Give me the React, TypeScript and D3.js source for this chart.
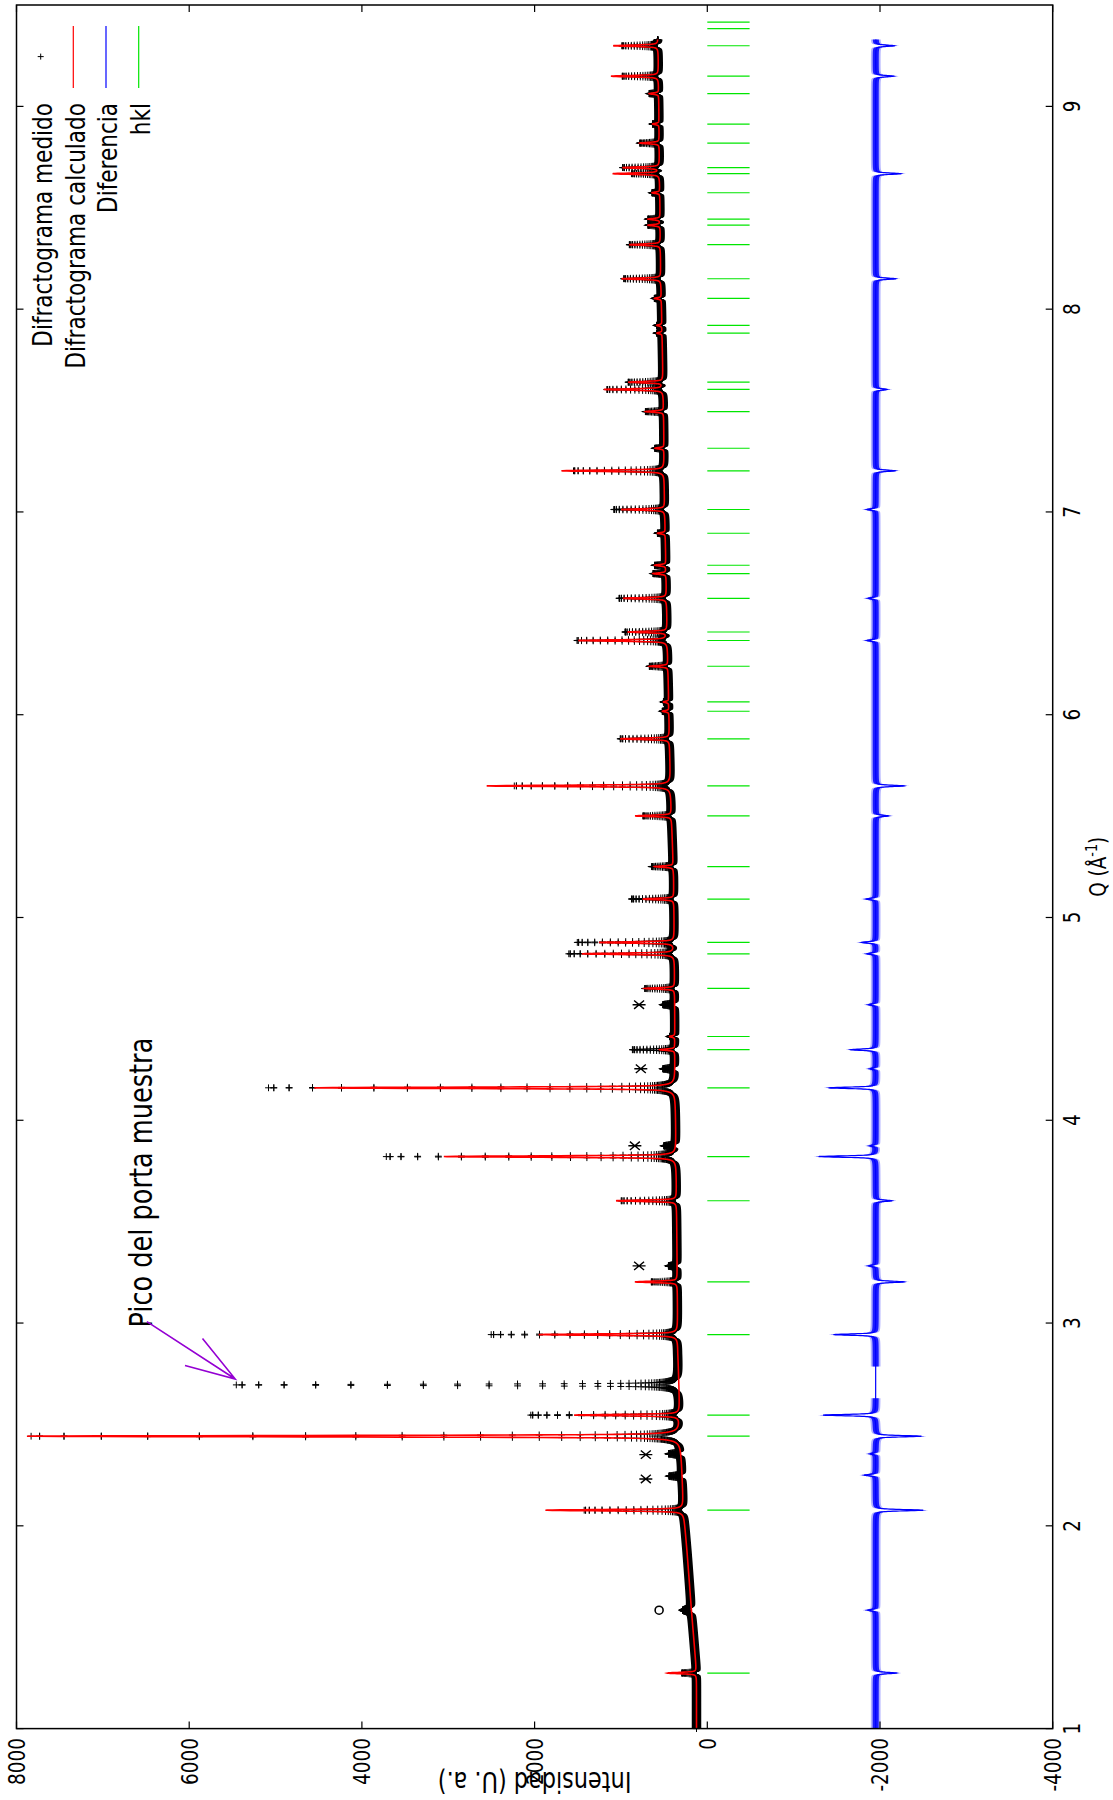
import React from 'react';
import * as d3 from 'd3';

// ---------- DATA ----------
const qTicks = [1, 2, 3, 4, 5, 6, 7, 8, 9];
const intensityTicks = [8000, 6000, 4000, 2000, 0, -2000, -4000];

// background knots (Q, intensity)
const bgQ = [1.0, 1.28, 1.58, 1.87, 2.08, 2.4, 2.85, 3.4, 3.8, 4.3, 4.8, 5.2, 5.5, 5.8, 6.2, 6.7, 7.1, 7.5, 7.8, 8.2, 8.8, 9.33];
const bgI = [125, 125, 183, 234, 275, 305, 340, 352, 360, 375, 380, 390, 415, 434, 454, 478, 497, 506, 520, 540, 556, 570];

// reflections (hkl positions), calculated and observed peak heights above background
const reflectionQ = [1.274, 2.077, 2.442, 2.546, 2.943, 3.203, 3.603, 3.821, 4.160, 4.348, 4.413, 4.650, 4.821, 4.877, 5.091, 5.251, 5.501, 5.649, 5.881, 6.017, 6.063, 6.239, 6.366, 6.408, 6.574, 6.696, 6.737, 6.895, 7.012, 7.203, 7.314, 7.495, 7.604, 7.640, 7.882, 7.920, 8.053, 8.150, 8.318, 8.414, 8.444, 8.574, 8.668, 8.698, 8.819, 8.913, 9.063, 9.149, 9.299, 9.383, 9.416];
const calcHeight = [340, 1600, 7570, 1220, 1610, 490, 700, 2690, 4180, 175, 60, 345, 1070, 870, 362, 218, 420, 2130, 570, 75, 60, 215, 1030, 455, 505, 150, 130, 90, 505, 1190, 105, 210, 685, 400, 60, 60, 80, 455, 360, 140, 140, 90, 540, 425, 225, 75, 110, 550, 520, 0, 0];
const obsHeight = [170, 1150, 7520, 1720, 2160, 300, 640, 3355, 4710, 490, 60, 345, 1220, 1120, 490, 250, 330, 1810, 570, 75, 60, 215, 1045, 485, 550, 150, 130, 90, 590, 1050, 105, 210, 650, 400, 60, 60, 80, 430, 360, 140, 140, 90, 320, 425, 225, 75, 110, 420, 420, 0, 0];

// observed peaks not in the model (sample holder + impurities)
const extraQ = [1.584, 2.245, 2.355, 2.695, 3.282, 3.874, 4.254, 4.570];
const extraHeight = [100, 150, 140, 5125, 100, 130, 135, 135];
const extraWidth = [0.02, 0.012, 0.012, 0.008, 0.012, 0.012, 0.012, 0.012];

// difference curve spikes
const diffQ = [1.274, 1.584, 2.077, 2.25, 2.355, 2.442, 2.546, 2.943, 3.203, 3.282, 3.603, 3.821, 3.874, 4.160, 4.254, 4.348, 4.570, 4.821, 4.877, 5.091, 5.501, 5.649, 6.366, 6.574, 7.012, 7.203, 7.604, 8.150, 8.668, 9.149, 9.299];
const diffAmp = [-240, 90, -550, 130, 60, -530, 610, 488, -330, 80, -185, 660, 60, 545, 60, 290, 80, 100, 165, 110, -147, -330, 100, 85, 100, -225, -132, -230, -290, -208, -215];
const diffOffset = -1950;
const excludedRegion = [2.63, 2.785];

// impurity markers
const asteriskQ = [2.231, 2.351, 3.282, 3.874, 4.254, 4.570];
const asteriskI = [712, 712, 790, 839, 770, 790];
const circleQ = [1.584];
const circleI = [558];

// annotation
const annotationText = 'Pico del porta muestra';
const labelAt = [2.978, 6431];
const arrowFrom = [3.007, 6490];
const arrowTo = [2.724, 5467];

const legendLabels = ['Difractograma medido', 'Difractograma calculado', 'Diferencia', 'hkl'];

const qStart = 1.0, qEnd = 9.33, qStep = 0.0005;
const FWHM = 0.008, ETA = 0.5;
const noiseBand = 55;
const diffNoise = 35;

// ---------- helpers ----------
function profile(d: number, w: number) {
  const x = d / w;
  const g = Math.exp(-4 * Math.LN2 * x * x);
  const l = 1 / (1 + 4 * x * x);
  return ETA * l + (1 - ETA) * g;
}

const W = 1723.6;
const H = 1036.2;
const SX = 0.8;
const FONT = 'DejaVu Sans';

const x = d3.scaleLinear().domain([1, 9.5]).range([0, W]);
const y = d3.scaleLinear().domain([-4000, 8000]).range([H, 0]);
const bg = d3.scaleLinear().domain(bgQ).range(bgI).clamp(true);

type P = { q: number; b: number; calc: number; obs: number; diff: number };

function buildData(): P[] {
  const pts: P[] = [];
  const n = Math.round((qEnd - qStart) / qStep);
  for (let i = 0; i <= n; i++) {
    const q = qStart + i * qStep;
    const b = bg(q);
    let c = 0, o = 0, df = 0;
    for (let k = 0; k < reflectionQ.length; k++) {
      const d = q - reflectionQ[k];
      if (Math.abs(d) > 0.6) continue;
      const p = profile(d, FWHM);
      c += calcHeight[k] * p;
      o += obsHeight[k] * p;
    }
    for (let k = 0; k < extraQ.length; k++) {
      const d = q - extraQ[k];
      if (Math.abs(d) > 0.6) continue;
      o += extraHeight[k] * profile(d, extraWidth[k]);
    }
    for (let k = 0; k < diffQ.length; k++) {
      const d = q - diffQ[k];
      if (Math.abs(d) > 0.6) continue;
      df += diffAmp[k] * profile(d, FWHM);
    }
    pts.push({ q, b, calc: b + c, obs: b + o, diff: diffOffset + df });
  }
  return pts;
}

const Txt = (props: { x: number; y: number; anchor?: string; size: number; rotate?: number; fill?: string; children: any }) => (
  <text
    transform={`translate(${props.x},${props.y}) rotate(${props.rotate || 0}) scale(${SX},1)`}
    textAnchor={props.anchor || 'start'}
    fontSize={props.size}
    fontFamily={FONT}
    fill={props.fill || '#000'}
  >
    {props.children}
  </text>
);

export default function App() {
  const data = React.useMemo(buildData, []);

  const nearBase = (d: P) => d.obs - d.b < 260;
  const obsArea = d3.area<P>().defined(nearBase).x(d => x(d.q)).y0(d => y(d.obs - noiseBand)).y1(d => y(d.obs + noiseBand))(data) || '';
  const a = 3.4;
  const crossParts: string[] = [];
  for (const d of data) {
    const px = x(d.q), py = y(d.obs);
    crossParts.push(`M${(px - a).toFixed(1)},${py.toFixed(1)}h${2 * a}M${px.toFixed(1)},${(py - a).toFixed(1)}v${2 * a}`);
  }
  const crossPath = crossParts.join('');
  const calcLine = d3.line<P>().x(d => x(d.q)).y(d => y(d.calc))(data) || '';
  const diffLine = d3.line<P>().x(d => x(d.q)).y(d => y(d.diff))(data) || '';
  const inExcl = (d: P) => d.q < excludedRegion[0] || d.q > excludedRegion[1];
  const diffArea = d3.area<P>().defined(inExcl).x(d => x(d.q)).y0(d => y(d.diff - diffNoise)).y1(d => y(d.diff + diffNoise))(data) || '';
  const diffArea2 = d3.area<P>().defined(inExcl).x(d => x(d.q)).y0(d => y(d.diff - diffNoise * 1.6)).y1(d => y(d.diff + diffNoise * 1.6))(data) || '';

  // arrow
  const ax0 = x(arrowFrom[0]), ay0 = y(arrowFrom[1]);
  const ax1 = x(arrowTo[0]), ay1 = y(arrowTo[1]);
  const ang = Math.atan2(ay0 - ay1, ax0 - ax1);
  const headLen = 52, headAng = (18 * Math.PI) / 180;
  const b1 = [ax1 + headLen * Math.cos(ang + headAng), ay1 + headLen * Math.sin(ang + headAng)];
  const b2 = [ax1 + headLen * Math.cos(ang - headAng), ay1 + headLen * Math.sin(ang - headAng)];

  // asterisk path
  const astAngles = [90, 50, 130].map(t => (t * Math.PI) / 180);
  const astR = 6.5;
  const astPath = asteriskQ
    .map((q, i) => {
      const cx = x(q), cy = y(asteriskI[i]);
      return astAngles
        .map(t => `M${cx - astR * Math.cos(t)},${cy - astR * Math.sin(t)}L${cx + astR * Math.cos(t)},${cy + astR * Math.sin(t)}`)
        .join('');
    })
    .join('');

  const legendTextEnd = 1625.6;
  const legendBase = [35.2, 68.2, 100.9, 133.6];
  const legendColors = ['#000', '#ff0000', '#0000ff', '#00e600'];

  return (
    <>
      <style>{'body{margin:0}'}</style>
      <svg width={1113} height={1800} xmlns="http://www.w3.org/2000/svg" style={{ display: 'block' }}>
        <rect width={1113} height={1800} fill="#fff" />
        <g transform="translate(16.5,1728.6) rotate(-90)">
          {/* measured */}
          <path d={obsArea} fill="#000" />
          <path d={crossPath} stroke="#000" strokeWidth={1} fill="none" />
          {/* calculated */}
          <path d={calcLine} stroke="#ff0000" strokeWidth={1.6} fill="none" />
          {/* difference */}
          <path d={diffArea2} fill="#0000ff" opacity={0.3} />
          <path d={diffArea} fill="#0000ff" opacity={0.85} />
          <path d={diffLine} stroke="#0000ff" strokeWidth={1.2} fill="none" />
          {/* hkl */}
          {reflectionQ.map((q, i) => (
            <line key={i} x1={x(q)} x2={x(q)} y1={y(0)} y2={y(-490)} stroke="#00e600" strokeWidth={1.2} />
          ))}
          {/* impurity markers */}
          <path d={astPath} stroke="#000" strokeWidth={1.4} fill="none" />
          {circleQ.map((q, i) => (
            <circle key={i} cx={x(q)} cy={y(circleI[i])} r={4} stroke="#000" strokeWidth={1.6} fill="none" />
          ))}
          {/* annotation */}
          <Txt x={x(labelAt[0])} y={y(labelAt[1])} size={32}>{annotationText}</Txt>
          <path
            d={`M${ax0},${ay0}L${ax1},${ay1}M${b1[0]},${b1[1]}L${ax1},${ay1}L${b2[0]},${b2[1]}`}
            stroke="#9400d3"
            strokeWidth={1.6}
            fill="none"
          />
          {/* legend */}
          {legendLabels.map((t, i) => (
            <g key={t}>
              <Txt x={legendTextEnd} y={legendBase[i]} anchor="end" size={27}>{t}</Txt>
              {i === 0 ? (
                <path d={`M${1672 - 3},${legendBase[i] - 11}h6M1672,${legendBase[i] - 14}v6`} stroke="#000" strokeWidth={1} />
              ) : (
                <line x1={1640.6} x2={1702.6} y1={legendBase[i] - 11.4} y2={legendBase[i] - 11.4} stroke={legendColors[i]} strokeWidth={1.2} />
              )}
            </g>
          ))}
          {/* border & ticks */}
          <rect x={0} y={0} width={W} height={H} fill="none" stroke="#000" strokeWidth={1.5} />
          {qTicks.map(t => (
            <g key={'q' + t}>
              <line x1={x(t)} x2={x(t)} y1={H} y2={H - 7} stroke="#000" strokeWidth={1.2} />
              <line x1={x(t)} x2={x(t)} y1={0} y2={7} stroke="#000" strokeWidth={1.2} />
              <Txt x={x(t)} y={H + 27.3} anchor="middle" size={23}>{String(t)}</Txt>
            </g>
          ))}
          {intensityTicks.map(t => (
            <g key={'i' + t}>
              <line x1={0} x2={7} y1={y(t)} y2={y(t)} stroke="#000" strokeWidth={1.2} />
              <line x1={W} x2={W - 7} y1={y(t)} y2={y(t)} stroke="#000" strokeWidth={1.2} />
              <Txt x={-9.5} y={y(t) + 8.4} anchor="end" size={23}>{String(t)}</Txt>
            </g>
          ))}
          {/* axis labels */}
          <text
            transform={`translate(${x(5.25)},${H + 53.5}) scale(${SX},1)`}
            textAnchor="middle"
            fontSize={23}
            fontFamily={FONT}
          >
            Q (Å<tspan dy={-9} fontSize={16}>-1</tspan>
            <tspan dy={9}>)</tspan>
          </text>
          <Txt x={-43} y={y(2000)} anchor="middle" size={28} rotate={-90}>Intensidad (U. a.)</Txt>
        </g>
      </svg>
    </>
  );
}
